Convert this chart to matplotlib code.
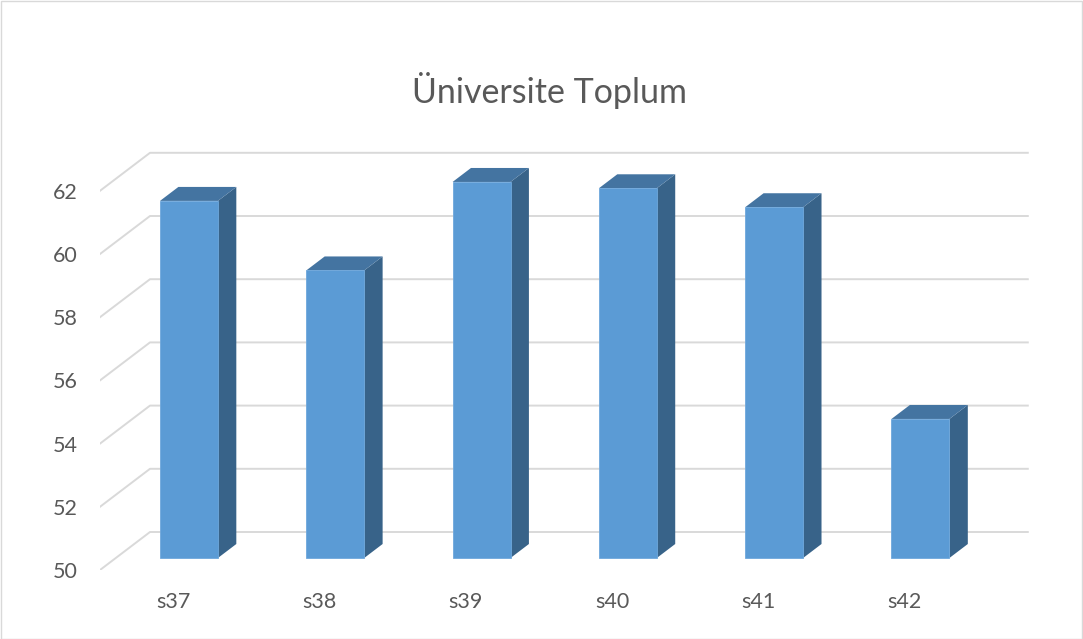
import matplotlib
matplotlib.use("Agg")
import matplotlib.pyplot as plt
from matplotlib.patches import Rectangle

categories = ["s37", "s38", "s39", "s40", "s41", "s42"]
values = [61.3, 59.1, 61.9, 61.7, 61.1, 54.4]
yticks = [50, 52, 54, 56, 58, 60, 62]
title = "Üniversite Toplum"

plt.rcParams["font.family"] = ["Lato", "DejaVu Sans"]

W, H = 1083, 639
fig = plt.figure(figsize=(W / 100, H / 100), dpi=100)
fig.patch.set_facecolor("white")

# layout in pixels (front edge of the floor is the axes frame)
px_cat = 146.3     # pixels per category
px_val = 31.6      # pixels per value unit
left, right, top, bottom = 100, 1040, 140, 570
depth = (50 / px_cat, 38 / px_val)   # oblique offset of the back wall, data units
z0, z1 = 0.316, 0.684                # bar front / back depth fraction
half = 0.198                         # half bar width, categories

ax = fig.add_axes([left / W, (H - bottom) / H, (right - left) / W, (bottom - top) / H])
ax.set_xlim(-0.5, -0.5 + (right - left) / px_cat)
ax.set_ylim(yticks[0], yticks[0] + (bottom - top) / px_val)
ax.set_facecolor("none")
for s in ax.spines.values():
    s.set_visible(False)

dx, dy = depth
n = len(categories)
grid_col = "#d9d9d9"
for v in yticks:
    ax.plot([-0.5, -0.5 + dx, n - 0.5 + dx], [v, v + dy, v + dy],
            color=grid_col, lw=1.4, zorder=1)

front_col, top_col, side_col = "#5b9bd5", "#4474a1", "#386389"
ddx, ddy = (z1 - z0) * dx, (z1 - z0) * dy
for i, v in enumerate(values):
    xl = i - half + z0 * dx
    xr = i + half + z0 * dx
    yb = yticks[0] + z0 * dy
    yt = v + z0 * dy
    ax.fill([xr, xr + ddx, xr + ddx, xr], [yb, yb + ddy, yt + ddy, yt],
            color=side_col, zorder=2, lw=0)
    ax.fill([xl, xr, xr + ddx, xl + ddx], [yt, yt, yt + ddy, yt + ddy],
            color=top_col, zorder=2, lw=0)
    ax.fill([xl, xr, xr, xl], [yb, yb, yt, yt],
            color=front_col, zorder=3, ec="#6fa8dc", lw=0.6)

txt_col = "#595959"
ax.set_yticks(yticks)
ax.set_yticklabels([str(t) for t in yticks])
ax.set_xticks(range(n))
ax.set_xticklabels(categories)
ax.tick_params(axis="y", length=0, pad=16, labelsize=15.5, labelcolor=txt_col)
ax.tick_params(axis="x", length=0, pad=16, labelsize=15.5, labelcolor=txt_col)

fig.text(549 / W, 1 - 103 / H, title, ha="center", va="baseline",
         fontsize=24.5, color=txt_col)

fig.patches.append(Rectangle((0.5 / W, 0.5 / H), (W - 1.5) / W, (H - 1.5) / H,
                             transform=fig.transFigure, fill=False,
                             ec=grid_col, lw=1))

fig.savefig("out.png", dpi=100)
